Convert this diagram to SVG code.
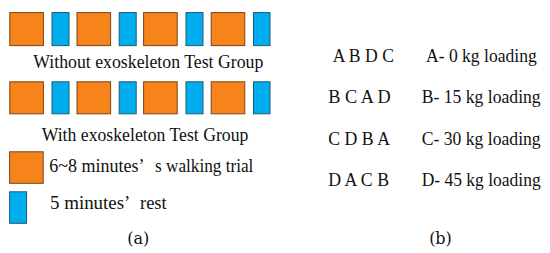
<svg xmlns="http://www.w3.org/2000/svg" width="550" height="253" viewBox="0 0 550 253">
<style>
.o{fill:#F7841B;stroke:#7a4416;stroke-width:1}
.b{fill:#00AEEF;stroke:#1d5a73;stroke-width:1}
.t{font-family:'Liberation Serif','Times New Roman',Times,serif;font-size:19px;fill:#111}
.r{font-family:'Liberation Serif','Times New Roman',Times,serif;font-size:18.5px;fill:#111}
.lab{font-family:'DejaVu Serif',serif;font-size:16px;text-anchor:middle;fill:#111}
</style>
<rect width="550" height="253" fill="#fff"/>
<g id="row-without">
<rect class="o" x="9.8" y="12.6" width="33.6" height="33"/>
<rect class="b" x="52" y="12.6" width="17" height="33"/>
<rect class="o" x="77" y="12.6" width="33.6" height="33"/>
<rect class="b" x="119.2" y="12.6" width="17" height="33"/>
<rect class="o" x="143.6" y="12.6" width="33.6" height="33"/>
<rect class="b" x="186" y="12.6" width="17" height="33"/>
<rect class="o" x="211.2" y="12.6" width="33.6" height="33"/>
<rect class="b" x="253.5" y="12.6" width="16.5" height="33"/>
<text class="t" x="33.3" y="68.3" textLength="230" lengthAdjust="spacingAndGlyphs">Without exoskeleton Test Group</text>
</g>
<g id="row-with">
<rect class="o" x="9.8" y="81.8" width="33.6" height="32"/>
<rect class="b" x="52" y="81.8" width="17" height="32"/>
<rect class="o" x="77" y="81.8" width="33.6" height="32"/>
<rect class="b" x="119.2" y="81.8" width="17" height="32"/>
<rect class="o" x="143.6" y="81.8" width="33.6" height="32"/>
<rect class="b" x="186" y="81.8" width="17" height="32"/>
<rect class="o" x="211.2" y="81.8" width="33.6" height="32"/>
<rect class="b" x="253.5" y="81.8" width="16.5" height="32"/>
<text class="t" x="41.7" y="141" textLength="206.7" lengthAdjust="spacingAndGlyphs">With exoskeleton Test Group</text>
</g>
<g id="legend-walk">
<rect class="o" x="9.6" y="151.8" width="33.6" height="31.5"/>
<text class="t" x="49.3" y="171.7"><tspan textLength="94" lengthAdjust="spacingAndGlyphs">6~8 minutes’</tspan> <tspan x="155" textLength="98.3" lengthAdjust="spacingAndGlyphs">s walking trial</tspan></text>
</g>
<g id="legend-rest">
<rect class="b" x="9.6" y="191.8" width="17" height="31.5"/>
<text class="t" x="50" y="209"><tspan textLength="79" lengthAdjust="spacingAndGlyphs">5 minutes’</tspan> <tspan x="140" textLength="26.7" lengthAdjust="spacingAndGlyphs">rest</tspan></text>
</g>
<text class="lab" x="138.3" y="244">(a)</text>
<g id="sequences">
<text class="r" x="332.7" y="61.7" textLength="61.3" lengthAdjust="spacingAndGlyphs">A B D C</text>
<text class="r" x="328.3" y="103.3" textLength="62.4" lengthAdjust="spacingAndGlyphs">B C A D</text>
<text class="r" x="328.3" y="145" textLength="61.7" lengthAdjust="spacingAndGlyphs">C D B A</text>
<text class="r" x="328.3" y="185.7" textLength="60.7" lengthAdjust="spacingAndGlyphs">D A C B</text>
</g>
<g id="loadings">
<text class="r" x="426" y="61.7" textLength="110.7" lengthAdjust="spacingAndGlyphs">A- 0 kg loading</text>
<text class="r" x="421.7" y="103.3" textLength="119" lengthAdjust="spacingAndGlyphs">B- 15 kg loading</text>
<text class="r" x="421.7" y="145" textLength="119" lengthAdjust="spacingAndGlyphs">C- 30 kg loading</text>
<text class="r" x="421.7" y="185.7" textLength="119" lengthAdjust="spacingAndGlyphs">D- 45 kg loading</text>
</g>
<text class="lab" x="440.5" y="244">(b)</text>
</svg>
